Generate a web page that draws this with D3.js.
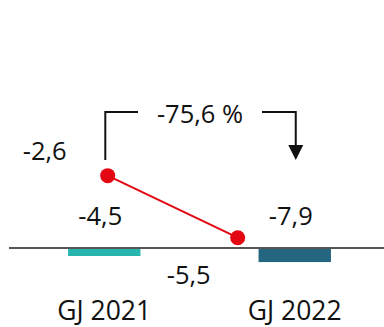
<!DOCTYPE html>
<html>
<head>
<meta charset="utf-8">
<script src="https://cdn.jsdelivr.net/npm/d3@7/dist/d3.min.js"></script>
<style>
  body { margin: 0; background: #fff; }
  text { font-family: "Open Sans", sans-serif; font-size: 25.5px; fill: #111; }
  text.cat { font-size: 26.5px; }
</style>
</head>
<body>
<div id="grafico"></div>
<script>
// datos del gráfico
var categorias = ["GJ 2021", "GJ 2022"];
var barras = [-4.5, -7.9];
var linea = [-2.6, -5.5];
var cambio = "-75,6 %";

var width = 384;
var height = 327;

// formato con coma decimal y guion normal
function fmt(v) { return d3.format(".1f")(v).replace("\u2212", "-").replace(".", ","); }

var svg = d3.select("#grafico")
  .append("svg")
  .attr("width", width)
  .attr("height", height);

// escalas
var x = d3.scaleBand()
  .domain(categorias)
  .range([9, 390])
  .paddingInner(0.62)
  .paddingOuter(0.31);

var yBar = d3.scaleLinear().domain([0, -10]).range([248, 265.8]);
var xLinea = d3.scalePoint().domain(categorias).range([107.7, 237.7]);
var yLinea = d3.scaleLinear().domain([0, -10]).range([120, 334]);

// barras
var colores = ["#27b6ae", "#246580"];
svg.selectAll(".bar")
  .data(barras)
  .enter()
  .append("rect")
  .attr("class", "bar")
  .attr("x", function(d, i) { return x(categorias[i]); })
  .attr("y", yBar(0))
  .attr("width", x.bandwidth())
  .attr("height", function(d) { return yBar(d) - yBar(0); })
  .attr("fill", function(d, i) { return colores[i]; });

// línea base
svg.append("line")
  .attr("x1", 9).attr("x2", width)
  .attr("y1", yBar(0)).attr("y2", yBar(0))
  .attr("stroke", "#555")
  .attr("stroke-width", 2);

// etiquetas de barras
svg.selectAll(".lblBar")
  .data(barras)
  .enter()
  .append("text")
  .attr("text-anchor", "middle")
  .attr("x", function(d, i) { return x(categorias[i]) + x.bandwidth() / 2 - 4; })
  .attr("y", yBar(0) - 23)
  .text(fmt);

// categorías
svg.selectAll(".cat")
  .data(categorias)
  .enter()
  .append("text")
  .attr("class", "cat")
  .attr("text-anchor", "middle")
  .attr("x", function(d) { return x(d) + x.bandwidth() / 2; })
  .attr("y", 320)
  .text(function(d) { return d; });

// línea roja
var lineGen = d3.line()
  .x(function(d, i) { return xLinea(categorias[i]); })
  .y(function(d) { return yLinea(d); });

svg.append("path")
  .datum(linea)
  .attr("d", lineGen)
  .attr("fill", "none")
  .attr("stroke", "#e30613")
  .attr("stroke-width", 2);

svg.selectAll(".pt")
  .data(linea)
  .enter()
  .append("circle")
  .attr("cx", function(d, i) { return xLinea(categorias[i]); })
  .attr("cy", function(d) { return yLinea(d); })
  .attr("r", 7.5)
  .attr("fill", "#e30613");

// etiquetas de la línea
var offsets = [[-63, -16], [-49, 46]];
svg.selectAll(".lblLinea")
  .data(linea)
  .enter()
  .append("text")
  .attr("text-anchor", "middle")
  .attr("x", function(d, i) { return xLinea(categorias[i]) + offsets[i][0]; })
  .attr("y", function(d, i) { return yLinea(d) + offsets[i][1]; })
  .text(fmt);

// corchete con flecha
var xa = xLinea(categorias[0]) - 2.4;
var xb = x(categorias[1]) + x.bandwidth() / 2 + 1;
var yTop = 112;
svg.append("path")
  .attr("d", "M" + xa + ",160 V" + yTop + " H138")
  .attr("fill", "none").attr("stroke", "#111").attr("stroke-width", 2);
svg.append("path")
  .attr("d", "M262," + yTop + " H" + xb + " V146")
  .attr("fill", "none").attr("stroke", "#111").attr("stroke-width", 2);
svg.append("path")
  .attr("d", "M" + (xb - 7.5) + ",145 L" + (xb + 7.5) + ",145 L" + xb + ",160 Z")
  .attr("fill", "#111");
svg.append("text")
  .attr("text-anchor", "middle")
  .attr("x", 200)
  .attr("y", 123)
  .text(cambio);
</script>
</body>
</html>
